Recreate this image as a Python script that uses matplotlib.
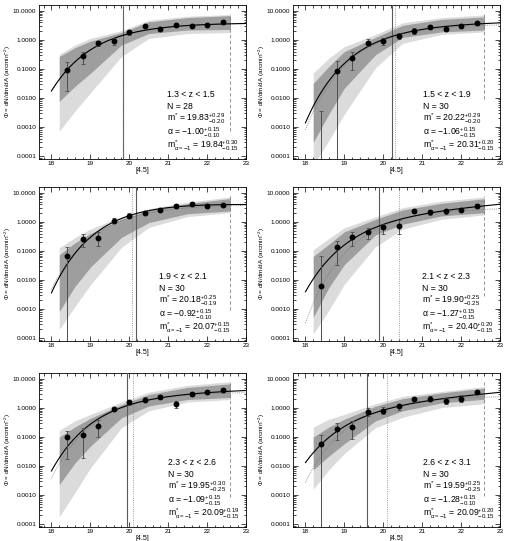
import numpy as np
import matplotlib
matplotlib.use("Agg")
import matplotlib.pyplot as plt
from matplotlib.ticker import FixedLocator, MultipleLocator, LogLocator, NullFormatter, FormatStrFormatter

plt.rcParams["font.family"] = ["Liberation Sans", "DejaVu Sans"]
plt.rcParams["mathtext.fontset"] = "custom"
plt.rcParams["mathtext.rm"] = "Liberation Sans"
plt.rcParams["mathtext.it"] = "Liberation Sans"
plt.rcParams["mathtext.sf"] = "Liberation Sans"

# ── data ─────────────────────────────────────────────────
z_bins = ["1.3 < z < 1.5", "1.5 < z < 1.9", "1.9 < z < 2.1",
          "2.1 < z < 2.3", "2.3 < z < 2.6", "2.6 < z < 3.1"]
n_gal = [28, 30, 30, 30, 30, 30]

mag = [18.4, 18.8, 19.2, 19.6, 20.0, 20.4, 20.8, 21.2, 21.6, 22.0, 22.4]

phi = [
    [0.093, 0.28, 0.80, 0.89, 1.81, 2.98, 2.42, 3.3, 3.15, 3.4, 4.3],
    [1e-5, 0.083, 0.237, 0.81, 0.92, 1.41, 2.03, 2.85, 2.43, 3.08, 3.7],
    [0.068, 0.26, 0.28, 1.12, 1.65, 2.09, 2.64, 3.5, 4.1, 3.6, 3.8],
    [0.0063, 0.136, 0.30, 0.46, 0.65, 0.72, 2.45, 2.15, 2.3, 2.65, 3.45],
    [0.098, 0.12, 0.24, 0.93, 1.56, 1.92, 2.48, 1.41, 3.05, 3.56, 4.05],
    [0.056, 0.19, 0.225, 0.74, 0.80, 1.14, 1.97, 2.1, 1.73, 2.1, 3.66],
]
phi_top = [
    [0.17, 0.39, 0.95, 1.13, 2.2, 3.4, 2.8, 3.8, 3.6, 3.9, 4.9],
    [0.0036, 0.19, 0.40, 1.05, 1.2, 1.78, 2.5, 3.3, 2.85, 3.6, 4.2],
    [0.135, 0.385, 0.44, 1.34, 1.97, 2.4, 3.1, 4.1, 4.7, 4.2, 4.4],
    [0.069, 0.23, 0.44, 0.63, 0.88, 1.17, 2.9, 2.6, 2.7, 3.1, 4.0],
    [0.166, 0.21, 0.39, 1.1, 1.87, 2.3, 2.9, 1.8, 3.6, 4.1, 4.7],
    [0.12, 0.30, 0.36, 1.0, 1.06, 1.4, 2.3, 2.5, 2.2, 2.7, 4.3],
]
phi_bot = [
    [0.018, 0.15, 0.62, 0.67, 1.5, 2.5, 2.0, 2.9, 2.7, 3.0, 3.8],
    [1e-6, 1e-6, 0.09, 0.62, 0.68, 1.08, 1.6, 2.4, 2.03, 2.6, 3.3],
    [1e-6, 0.14, 0.15, 0.9, 1.34, 1.8, 2.26, 3.0, 3.5, 3.0, 3.3],
    [1e-6, 0.033, 0.147, 0.25, 0.39, 0.375, 2.1, 1.8, 1.9, 2.3, 2.95],
    [0.017, 0.019, 0.098, 0.76, 1.3, 1.6, 2.1, 1.03, 2.6, 3.0, 3.45],
    [1e-6, 0.078, 0.086, 0.55, 0.6, 0.84, 1.64, 1.77, 1.33, 1.64, 3.1],
]

# confidence bands (edges read at a few magnitudes)
band_mag = [18.2, 18.6, 19.0, 19.8, 20.5, 21.5, 22.6]
light_hi = [
    [0.32, 0.67, 1.13, 2.1, 4.8, 6.6, 7.5],
    [0.073, 0.237, 0.59, 1.56, 3.9, 5.9, 7.3],
    [0.128, 0.29, 0.57, 1.53, 2.86, 4.8, 7.3],
    [0.11, 0.27, 0.63, 1.5, 3.1, 5.2, 7.3],
    [0.17, 0.36, 0.6, 1.6, 3.5, 6.0, 8.1],
    [0.22, 0.41, 0.6, 1.4, 2.5, 3.7, 5.5],
]
dark_hi = [
    [0.27, 0.54, 0.91, 1.8, 4.2, 5.9, 6.9],
    [0.032, 0.122, 0.40, 1.23, 3.2, 5.1, 6.2],
    [0.074, 0.19, 0.40, 1.24, 2.5, 4.3, 6.4],
    [0.066, 0.17, 0.46, 1.23, 2.6, 4.4, 6.3],
    [0.10, 0.22, 0.44, 1.3, 2.9, 5.1, 6.8],
    [0.10, 0.22, 0.41, 1.15, 2.1, 3.3, 4.8],
]
dark_lo = [
    [0.0077, 0.025, 0.071, 0.67, 1.67, 2.2, 2.3],
    [0.0003, 0.0028, 0.022, 0.31, 1.23, 1.9, 2.2],
    [0.00083, 0.0059, 0.028, 0.295, 0.95, 1.93, 2.4],
    [0.00052, 0.0055, 0.034, 0.36, 0.84, 1.62, 2.1],
    [0.0023, 0.0126, 0.048, 0.46, 1.17, 1.96, 2.3],
    [0.0074, 0.022, 0.059, 0.36, 0.8, 1.5, 2.0],
]
light_lo = [
    [0.00072, 0.0035, 0.015, 0.27, 1.13, 1.67, 1.8],
    [0.00005, 0.00034, 0.0028, 0.11, 0.77, 1.56, 1.9],
    [0.0002, 0.0012, 0.0068, 0.134, 0.65, 1.53, 2.1],
    [0.00014, 0.0009, 0.0072, 0.14, 0.57, 1.24, 1.75],
    [0.00018, 0.0012, 0.0085, 0.21, 0.8, 1.6, 1.96],
    [0.0016, 0.0074, 0.027, 0.21, 0.48, 1.03, 1.4],
]

# Schechter fit parameters (printed in each panel)
mstar = [19.83, 20.22, 20.18, 19.90, 19.95, 19.59]
mstar_err = [("0.29", "0.20"), ("0.29", "0.20"), ("0.25", "0.19"),
             ("0.25", "0.25"), ("0.30", "0.25"), ("0.25", "0.25")]
alpha = [-1.00, -1.06, -0.92, -1.27, -1.09, -1.28]
alpha_err = [("0.15", "0.10"), ("0.15", "0.15"), ("0.15", "0.10"),
             ("0.15", "0.15"), ("0.15", "0.15"), ("0.15", "0.10")]
phistar = [3.9, 3.6, 5.3, 2.0, 3.3, 1.5]
mstar_fix = [19.84, 20.31, 20.07, 20.40, 20.09, 20.09]
mstar_fix_err = [("0.30", "0.15"), ("0.20", "0.15"), ("0.15", "0.15"),
                 ("0.20", "0.15"), ("0.19", "0.15"), ("0.20", "0.15")]
phistar_fix = [3.9, 3.6, 4.0, 3.1, 3.6, 2.6]

mag_limit = 22.6
limit_bottom = [7.2e-4, 0.009, 9.5e-4, 0.0028, 8.5e-4, 9.7e-4]
text_x = [0.62, 0.63, 0.58, 0.625, 0.625, 0.63]


def schechter(m, ms, a, ps):
    x = 10 ** (0.4 * (ms - m))
    return ps * x ** (a + 1) * np.exp(-x)


fig = plt.figure(figsize=(5.09, 5.41), dpi=100)

col_left = [39 / 509, 293 / 509]
row_bottom = [1 - 159 / 541, 1 - 341 / 541, 1 - 527 / 541]
ax_w, ax_h = 207 / 509, 154 / 541

m_grid = np.linspace(18.0, 23.0, 200)

for i in range(6):
    ax = fig.add_axes([col_left[i % 2], row_bottom[i // 2], ax_w, ax_h])
    ax.set_yscale("log")

    ax.fill_between(band_mag, light_lo[i], light_hi[i], color="0.86", lw=0, zorder=1)
    ax.fill_between(band_mag, dark_lo[i], dark_hi[i], color="0.62", lw=0, zorder=2)

    ax.axvline(mstar[i], color="0.35", lw=0.8, zorder=3)
    ax.axvline(mstar_fix[i], color="0.5", lw=0.6, ls=":", zorder=3)
    ax.plot([mag_limit, mag_limit], [limit_bottom[i], 8], color="0.5",
            lw=0.6, ls=(0, (4, 3)), zorder=3)

    ax.plot(m_grid, schechter(m_grid, mstar_fix[i], -1.0, phistar_fix[i]),
            color="0.45", lw=0.6, ls=":", zorder=4)
    ax.plot(m_grid, schechter(m_grid, mstar[i], alpha[i], phistar[i]),
            color="black", lw=0.8, zorder=5)

    p = np.array(phi[i])
    yerr = [p - np.array(phi_bot[i]), np.array(phi_top[i]) - p]
    ax.errorbar(mag, p, yerr=yerr, fmt="o", ms=3.2, color="black",
                ecolor="0.3", elinewidth=0.7, capsize=1.6, capthick=0.6, zorder=6)

    ax.set_xlim(17.68, 23.0)
    ax.set_ylim(8e-5, 16)
    ax.xaxis.set_major_locator(MultipleLocator(1))
    ax.xaxis.set_minor_locator(MultipleLocator(0.2))
    ax.yaxis.set_major_locator(FixedLocator([1e-4, 1e-3, 1e-2, 1e-1, 1, 10]))
    ax.yaxis.set_minor_locator(LogLocator(base=10, subs=np.arange(2, 10), numticks=20))
    ax.yaxis.set_minor_formatter(NullFormatter())
    ax.yaxis.set_major_formatter(FormatStrFormatter("%.4f"))
    ax.tick_params(which="both", direction="in", top=True, right=True,
                   labelsize=4.6, width=0.5, pad=2)
    ax.tick_params(axis="x", pad=1.6)
    ax.tick_params(which="major", length=3.5)
    ax.tick_params(which="minor", length=1.8)
    for s in ax.spines.values():
        s.set_linewidth(0.6)

    ax.set_xlabel("[4.5]", fontsize=5, labelpad=0.3)
    ax.set_ylabel(r"$\Phi$ = dN/dm/dA (arcmin$^{-2}$)", fontsize=4.6)
    ax.yaxis.set_label_coords(-0.125, 0.5)

    lines = [
        z_bins[i],
        f"N = {n_gal[i]}",
        rf"m$^{{*}}$ = {mstar[i]:.2f}$^{{+{mstar_err[i][0]}}}_{{-{mstar_err[i][1]}}}$",
        rf"$\alpha$ = $-${abs(alpha[i]):.2f}$^{{+{alpha_err[i][0]}}}_{{-{alpha_err[i][1]}}}$",
        rf"m$^{{*}}_{{\alpha=-1}}$ = {mstar_fix[i]:.2f}$^{{+{mstar_fix_err[i][0]}}}_{{-{mstar_fix_err[i][1]}}}$",
    ]
    y_pos = [0.42, 0.34, 0.26, 0.168, 0.086]
    for txt, yy in zip(lines, y_pos):
        ax.text(text_x[i], yy, txt, transform=ax.transAxes, fontsize=6.2,
                va="center", ha="left", zorder=7)

fig.savefig("out.png", dpi=100)
